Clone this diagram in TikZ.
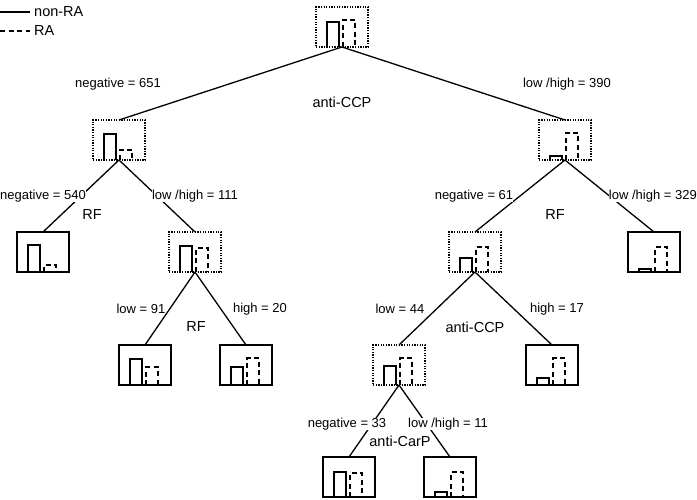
\documentclass[tikz,border=0pt]{standalone}
\usepackage{fontspec}
\setmainfont{Liberation Sans}
\usetikzlibrary{calc}
\tikzset{
  box/.style={draw, line width=1.5pt, minimum width=52pt, minimum height=40pt, inner sep=0pt, outer sep=0pt},
  splitbox/.style={box, line width=1.3pt, dash pattern=on 1.3pt off 1.3pt},
  leafbox/.style={box},
  conn/.style={line width=1.3pt},
  solidbar/.style={line width=1.3pt},
  dashbar/.style={line width=1.3pt, dash pattern=on 5pt off 3.5pt},
  lbl/.style={font=\fontsize{13}{15}\selectfont, inner sep=0pt},
  big/.style={font=\fontsize{14.5}{17}\selectfont, inner sep=0pt}
}
\newcommand\drawbars[3]{%
  \draw[solidbar] ($(#1.south west)+(11,0)$) -- ++(0,-#2) -- ++(12,0) -- ++(0,#2);
  \draw[dashbar] ($(#1.south west)+(27,0)$) -- ++(0,-#3) -- ++(12,0) -- ++(0,#3);
}
\begin{document}
\begin{tikzpicture}[x=1pt,y=-1pt]
\useasboundingbox (0,0) rectangle (697,500);
% legend
\coordinate (lga) at (0,12);
\coordinate (lgb) at (30,12);
\coordinate (lgc) at (0,31);
\coordinate (lgd) at (30,31);
\draw[conn] (lga) -- (lgb);
\draw[dashbar] (lgc) -- (lgd);
\node[big, anchor=west] (lgt1) at (34,12) {non-RA};
\node[big, anchor=west] (lgt2) at (34,31) {RA};
% nodes
\node[splitbox] (root) at (342,27) {};
\node[splitbox] (n1) at (119,140) {};
\node[splitbox] (n2) at (565,140) {};
\node[leafbox] (l540) at (43,252) {};
\node[splitbox] (n111) at (195,252) {};
\node[splitbox] (n61) at (475,252) {};
\node[leafbox] (l329) at (654,252) {};
\node[leafbox] (l91) at (145,365) {};
\node[leafbox] (l20) at (246,365) {};
\node[splitbox] (n44) at (399,365) {};
\node[leafbox] (l17) at (552,365) {};
\node[leafbox] (l33) at (349,477) {};
\node[leafbox] (l11) at (450,477) {};
% bars
\drawbars{root}{25}{27}
\drawbars{n1}{26}{10}
\drawbars{n2}{4}{27}
\drawbars{l540}{27}{7}
\drawbars{n111}{26}{24}
\drawbars{n61}{14}{25}
\drawbars{l329}{3}{25}
\drawbars{l91}{26}{18}
\drawbars{l20}{18}{27}
\drawbars{n44}{19}{27}
\drawbars{l17}{7}{27}
\drawbars{l33}{25}{24}
\drawbars{l11}{5}{25}
% connectors
\draw[conn] (root.south) -- (n1.north);
\draw[conn] (root.south) -- (n2.north);
\draw[conn] (n1.south) -- (l540.north);
\draw[conn] (n1.south) -- (n111.north);
\draw[conn] (n2.south) -- (n61.north);
\draw[conn] (n2.south) -- (l329.north);
\draw[conn] (n111.south) -- (l91.north);
\draw[conn] (n111.south) -- (l20.north);
\draw[conn] (n61.south) -- (n44.north);
\draw[conn] (n61.south) -- (l17.north);
\draw[conn] (n44.south) -- (l33.north);
\draw[conn] (n44.south) -- (l11.north);
% labels
\node[lbl, fill=white] (t651) at (118,84) {negative = 651};
\node[lbl, fill=white] (t390) at (567,84) {low /high = 390};
\node[big] (s1) at (342,102) {anti-CCP};
\node[lbl, fill=white, anchor=west] (t540) at (0,196) {negative = 540};
\node[big] (s2) at (92,215) {RF};
\node[lbl, fill=white] (t111) at (195,196) {low /high = 111};
\node[lbl, fill=white] (t61) at (474,196) {negative = 61};
\node[big] (s3) at (555,215) {RF};
\node[lbl, fill=white, anchor=east] (t329) at (697,196) {low /high = 329};
\node[lbl, fill=white] (t91) at (141,309) {low  = 91};
\node[big] (s4) at (196,327) {RF};
\node[lbl, fill=white] (t20) at (260,309) {high = 20};
\node[lbl, fill=white] (t44) at (400,309) {low  = 44};
\node[big] (s5) at (475,327) {anti-CCP};
\node[lbl, fill=white] (t17) at (557,309) {high = 17};
\node[lbl, fill=white] (t33) at (347,424) {negative = 33};
\node[lbl, fill=white] (t11) at (448,424) {low /high = 11};
\node[big] (s6) at (400,441) {anti-CarP};
\end{tikzpicture}
\end{document}
